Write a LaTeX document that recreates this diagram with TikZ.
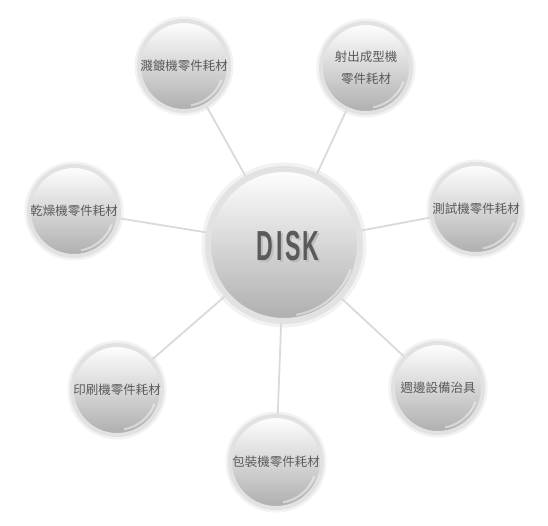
\documentclass[tikz,border=0pt]{standalone}
\usepackage{fontspec}
\newfontfamily\cjk{Noto Sans CJK TC}
\setsansfont{Liberation Sans}
\definecolor{ringgray}{HTML}{E2E2E2}
\definecolor{glowgray}{HTML}{F2F2F2}
\definecolor{ballgray}{HTML}{AEAEAE}
\definecolor{linkgray}{HTML}{DADADA}
\definecolor{labelgray}{HTML}{5A5A5A}
\definecolor{shadegray}{HTML}{BDBDBD}
\newcommand\diskword{\scalebox{0.55}[1]{D\hspace{5pt}I\hspace{5pt}S\hspace{3pt}K}}
\begin{document}
\begin{tikzpicture}[x=1pt,y=1pt,
  ball/.style={circle, inner sep=0pt, minimum size=#1,
    preaction={draw=glowgray, line width=9pt},
    draw=ringgray, line width=4pt,
    top color=white, middle color=white!90!black, bottom color=ballgray,
    text=labelgray, font=\cjk\fontsize{12.5}{22}\selectfont, align=center,
    path picture={\draw[white, line width=2.2pt, opacity=.45]
      (path picture bounding box.center) ++(-20:#1/2-5) arc[start angle=-20, end angle=-80, radius=#1/2-5];}},
  link/.style={draw=linkgray, line width=1.8pt},
  disktext/.style={font=\sffamily\bfseries\fontsize{42}{42}\selectfont}]
\useasboundingbox (0,0) rectangle (548,525);
\node[ball=152, line width=6pt, preaction={draw=glowgray, line width=13pt}] (disk) at (284,280) {};
\node[disktext, text=labelgray] (disklabel) at (288,278)
  {\makebox[0pt][l]{\hspace{2pt}\raisebox{-2pt}{\textcolor{shadegray}{\diskword}}}\diskword};
\node[ball=90] (sputter) at (184,459) {濺鍍機零件耗材};
\node[ball=90] (molding) at (366,457) {射出成型機\\零件耗材};
\node[ball=90] (dryer) at (74,314) {乾燥機零件耗材};
\node[ball=90] (tester) at (476,316) {測試機零件耗材};
\node[ball=90] (printer) at (117,135) {印刷機零件耗材};
\node[ball=90] (fixture) at (438,137) {週邊設備治具};
\node[ball=92] (packer) at (276,63) {包裝機零件耗材};
\draw[link] (disk) -- (sputter);
\draw[link] (disk) -- (molding);
\draw[link] (disk) -- (dryer);
\draw[link] (disk) -- (tester);
\draw[link] (disk) -- (printer);
\draw[link] (disk) -- (fixture);
\draw[link] (disk) -- (packer);
\end{tikzpicture}
\end{document}
